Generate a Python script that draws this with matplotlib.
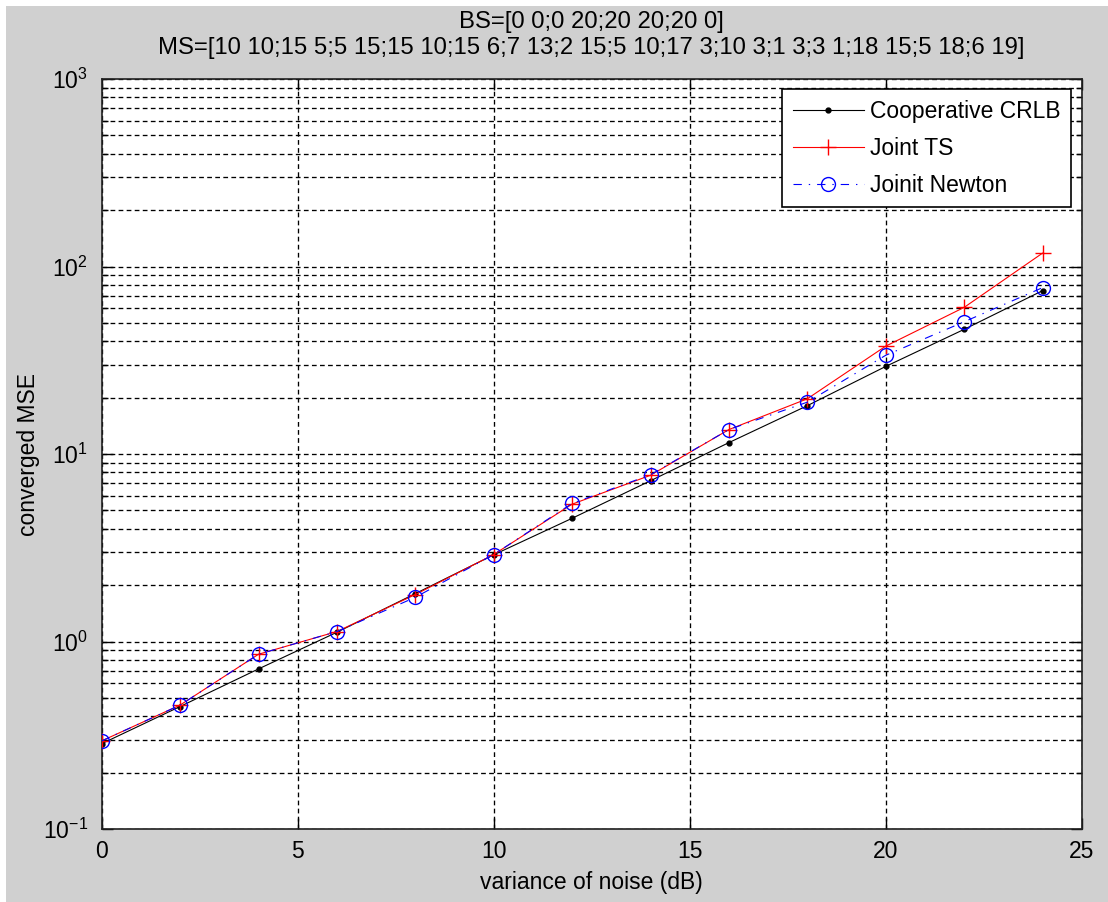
import matplotlib
matplotlib.use("Agg")
import matplotlib.pyplot as plt
from matplotlib.patches import Rectangle
from matplotlib.ticker import LogLocator, NullFormatter, MultipleLocator

plt.rcParams["font.family"] = ["Liberation Sans", "DejaVu Sans"]
plt.rcParams["mathtext.fontset"] = "custom"
plt.rcParams["mathtext.rm"] = "Liberation Sans"
plt.rcParams["mathtext.it"] = "Liberation Sans"
plt.rcParams["mathtext.default"] = "regular"
plt.rcParams["lines.scale_dashes"] = False

# Noise variance (dB) and converged MSE for each estimator
noise_db = [0, 2, 4, 6, 8, 10, 12, 14, 16, 18, 20, 22, 24]
crlb = [0.285, 0.45, 0.714, 1.12, 1.80, 2.90, 4.54, 7.2, 11.5, 18.1, 29.3, 46.2, 74.3]
joint_ts = [0.295, 0.458, 0.855, 1.13, 1.78, 2.91, 5.40, 7.7, 13.5, 19.7, 37.6, 60.5, 117.8]
joint_newton = [0.295, 0.458, 0.855, 1.13, 1.72, 2.91, 5.45, 7.75, 13.5, 18.9, 33.6, 50.7, 77.1]

series_labels = ["Cooperative CRLB", "Joint TS", "Joinit Newton"]
title_lines = ["BS=[0 0;0 20;20 20;20 0]",
               "MS=[10 10;15 5;5 15;15 10;15 6;7 13;2 15;5 10;17 3;10 3;1 3;3 1;18 15;5 18;6 19]"]

W, H, DPI = 1108, 902, 100
fig = plt.figure(figsize=(W / DPI, H / DPI), dpi=DPI, facecolor="#d0d0d0")

# thin white frame along the top and left edges
fig.patches.append(Rectangle((0, 1 - 6 / H), 1, 6 / H, transform=fig.transFigure,
                             facecolor="white", edgecolor="none", zorder=-10))
fig.patches.append(Rectangle((0, 0), 6 / W, 1, transform=fig.transFigure,
                             facecolor="white", edgecolor="none", zorder=-10))

left, right, top, bottom = 101.7, 1081.7, 79, 829
ax = fig.add_axes([left / W, 1 - bottom / H, (right - left) / W, (bottom - top) / H])
ax.set_facecolor("white")

fs = 16.5
lw = 0.8
ax.plot(noise_db, crlb, color="black", linestyle="-", linewidth=lw,
        marker=".", markersize=7, label=series_labels[0], zorder=3)
ax.plot(noise_db, joint_ts, color="red", linestyle="-", linewidth=lw,
        marker="+", markersize=11, markeredgewidth=1.0, label=series_labels[1], zorder=4)
ax.plot(noise_db, joint_newton, color="blue", linestyle=(0, (6, 5, 1, 5)), linewidth=lw,
        marker="o", markersize=10, markerfacecolor="none", markeredgewidth=1.0,
        label=series_labels[2], zorder=5)

ax.set_yscale("log")
ax.set_xlim(0, 25)
ax.set_ylim(0.1, 1000)
ax.xaxis.set_major_locator(MultipleLocator(5))
ax.yaxis.set_major_locator(LogLocator(base=10, numticks=10))
ax.yaxis.set_minor_locator(LogLocator(base=10, subs=range(2, 10), numticks=20))
ax.yaxis.set_minor_formatter(NullFormatter())

grid_style = dict(color="black", linestyle=(0, (3.4, 2.4)), linewidth=0.95)
ax.grid(True, which="major", axis="both", **grid_style)
ax.grid(True, which="minor", axis="y", **grid_style)
ax.set_axisbelow(True)

ax.tick_params(which="both", direction="in", top=True, right=True,
               labelsize=fs, colors="black", width=1.0)
ax.tick_params(which="major", length=8)
ax.tick_params(which="minor", length=4)
ax.tick_params(axis="x", pad=8)
ax.tick_params(axis="y", pad=10)
for sp in ax.spines.values():
    sp.set_linewidth(1.2)
    sp.set_color("#202020")

ax.set_xlabel("variance of noise (dB)", fontsize=fs, labelpad=6)
ax.set_ylabel("converged MSE", fontsize=fs, labelpad=2)
ax.set_title("\n".join(title_lines), fontsize=17.2, linespacing=1.25, pad=18)

leg = ax.legend(loc="upper right", fontsize=16.5, numpoints=1, handlelength=3.1,
                handletextpad=0.3, labelspacing=0.62, borderpad=0.45,
                borderaxespad=0.45, fancybox=False, framealpha=1.0)
leg.get_frame().set_edgecolor("black")
leg.get_frame().set_linewidth(1.2)

fig.savefig("out.png", dpi=DPI, facecolor=fig.get_facecolor())
